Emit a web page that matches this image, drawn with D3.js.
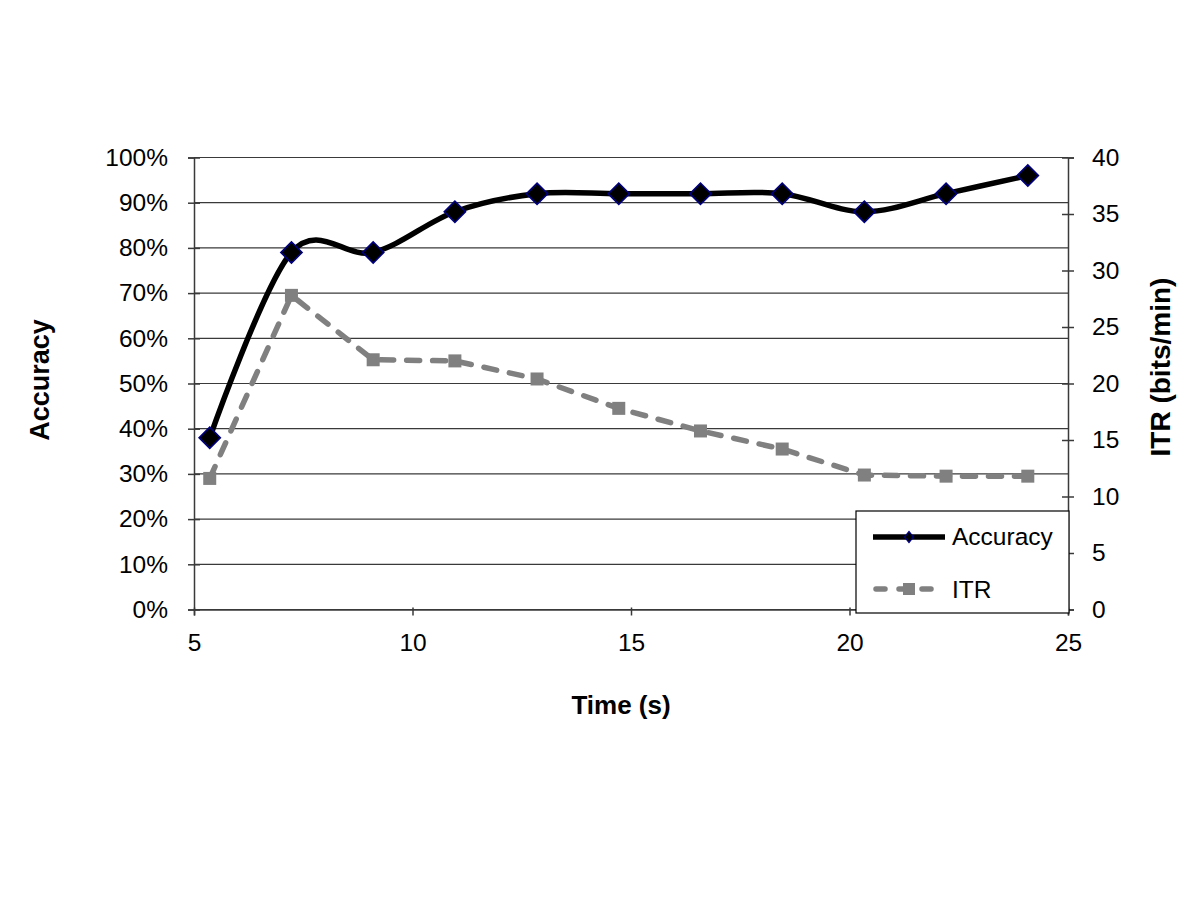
<!DOCTYPE html>
<html>
<head>
<meta charset="utf-8">
<script src="https://cdn.jsdelivr.net/npm/d3@7/dist/d3.min.js"></script>
<style>
  html, body { margin: 0; padding: 0; background: #fff; }
  svg { display: block; font-family: "Liberation Sans", Arial, sans-serif; }
</style>
</head>
<body>
<svg id="chart" width="1200" height="900"></svg>
<script>
// ---- data ----
const timeValues = [5.36, 7.23, 9.1, 10.97, 12.85, 14.72, 16.59, 18.46, 20.34, 22.21, 24.08];
const accuracyValues = [0.38, 0.79, 0.79, 0.88, 0.92, 0.92, 0.92, 0.92, 0.88, 0.92, 0.96];
const itrValues = [11.6, 27.8, 22.1, 22.0, 20.4, 17.8, 15.8, 14.2, 11.9, 11.8, 11.8];
const xTicks = [5, 10, 15, 20, 25];
const accTicks = [0, 0.1, 0.2, 0.3, 0.4, 0.5, 0.6, 0.7, 0.8, 0.9, 1.0];
const itrTicks = [0, 5, 10, 15, 20, 25, 30, 35, 40];
const seriesNames = ["Accuracy", "ITR"];

// ---- layout ----
const svg = d3.select("#chart");
const pLeft = 194, pRight = 1068, pTop = 157.5, pBottom = 609.5;

const x = d3.scaleLinear().domain([5, 25]).range([pLeft, pRight]);
const yAcc = d3.scaleLinear().domain([0, 1]).range([pBottom, pTop]);
const yItr = d3.scaleLinear().domain([0, 40]).range([pBottom, pTop]);

// gridlines
svg.append("g").selectAll("line").data(accTicks).join("line")
  .attr("x1", pLeft).attr("x2", pRight)
  .attr("y1", d => yAcc(d)).attr("y2", d => yAcc(d))
  .attr("stroke", "#3a3a3a").attr("stroke-width", 1.2);

// left axis
const gL = svg.append("g").attr("transform", `translate(${pLeft},0)`)
  .call(d3.axisLeft(yAcc).tickValues(accTicks).tickFormat(d3.format(".0%")).tickSize(6).tickPadding(20));
// right axis
const gR = svg.append("g").attr("transform", `translate(${pRight},0)`)
  .call(d3.axisRight(yItr).tickValues(itrTicks).tickFormat(d3.format("d")).tickSize(6).tickPadding(18));
// bottom axis
const gB = svg.append("g").attr("transform", `translate(0,${pBottom})`)
  .call(d3.axisBottom(x).tickValues(xTicks).tickFormat(d3.format("d")).tickSize(6).tickPadding(18));

[gL, gR, gB].forEach(g => {
  g.select(".domain").attr("stroke", "#3a3a3a").attr("stroke-width", 1.5);
  g.selectAll(".tick line").attr("stroke", "#3a3a3a").attr("stroke-width", 1.5);
  g.selectAll(".tick text").attr("font-size", 24.5).attr("fill", "#000")
    .attr("font-family", "Liberation Sans, Arial, sans-serif");
});
// cross ticks (extend inward too)
gL.selectAll(".tick line").attr("x1", 6);
gR.selectAll(".tick line").attr("x1", -6);
gB.selectAll(".tick line").attr("y1", -2);

// ---- series ----
const pts = timeValues.map((t, i) => ({ t, acc: accuracyValues[i], itr: itrValues[i] }));

// ITR dashed line
svg.append("path")
  .datum(pts)
  .attr("fill", "none")
  .attr("stroke", "#808080")
  .attr("stroke-width", 5.5)
  .attr("stroke-dasharray", "13,13")
  .attr("stroke-linecap", "round")
  .attr("d", d3.line().x(d => x(d.t)).y(d => yItr(d.itr)));

svg.append("g").selectAll("rect").data(pts).join("rect")
  .attr("x", d => x(d.t) - 6.5).attr("y", d => yItr(d.itr) - 6.5)
  .attr("width", 13).attr("height", 13)
  .attr("fill", "#808080");

// Accuracy smooth line
svg.append("path")
  .datum(pts)
  .attr("fill", "none")
  .attr("stroke", "#000")
  .attr("stroke-width", 5.5)
  .attr("d", d3.line().curve(d3.curveCardinal.tension(0)).x(d => x(d.t)).y(d => yAcc(d.acc)));

const diamond = d3.symbol().type(d3.symbolSquare).size(225);
svg.append("g").selectAll("path").data(pts).join("path")
  .attr("transform", d => `translate(${x(d.t)},${yAcc(d.acc)}) rotate(45)`)
  .attr("d", diamond)
  .attr("fill", "#000")
  .attr("stroke", "#000080")
  .attr("stroke-width", 1.6);

// ---- legend ----
const lg = svg.append("g");
lg.append("rect").attr("x", 856).attr("y", 511).attr("width", 213).attr("height", 102)
  .attr("fill", "#fff").attr("stroke", "#000").attr("stroke-width", 1.2);
// accuracy entry
lg.append("line").attr("x1", 873).attr("x2", 945).attr("y1", 537).attr("y2", 537)
  .attr("stroke", "#000").attr("stroke-width", 5.5);
lg.append("path").attr("transform", "translate(909,537) scale(0.8,1) rotate(45)")
  .attr("d", d3.symbol().type(d3.symbolSquare).size(60)())
  .attr("fill", "#000").attr("stroke", "#000080").attr("stroke-width", 1.5);
lg.append("text").attr("x", 952).attr("y", 545).attr("font-size", 24.5).text(seriesNames[0]);
// ITR entry
lg.append("line").attr("x1", 873).attr("x2", 945).attr("y1", 589).attr("y2", 589)
  .attr("stroke", "#808080").attr("stroke-width", 5.5)
  .attr("stroke-dasharray", "9,14").attr("stroke-linecap", "round")
  .attr("stroke-dashoffset", -3);
lg.append("rect").attr("x", 903).attr("y", 583).attr("width", 12).attr("height", 12).attr("fill", "#808080");
lg.append("text").attr("x", 952).attr("y", 598).attr("font-size", 24.5).text(seriesNames[1]);

// ---- axis titles ----
svg.append("text").attr("x", 621).attr("y", 714).attr("text-anchor", "middle")
  .attr("font-size", 26).attr("font-weight", "bold").text("Time (s)");
svg.append("text").attr("transform", "translate(49,380) rotate(-90)").attr("text-anchor", "middle")
  .attr("font-size", 27).attr("font-weight", "bold").text("Accuracy");
svg.append("text").attr("transform", "translate(1170,367) rotate(-90)").attr("text-anchor", "middle")
  .attr("font-size", 28).attr("font-weight", "bold").text("ITR (bits/min)");
</script>
</body>
</html>
